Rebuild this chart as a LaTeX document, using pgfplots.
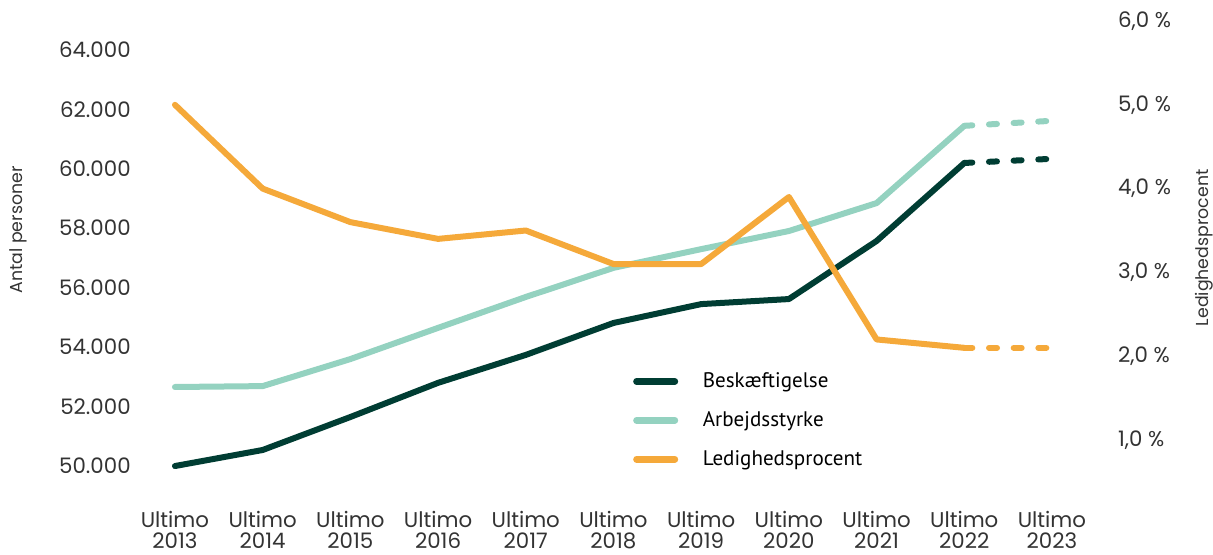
\documentclass[border=0pt]{standalone}
\usepackage{pgfplots}
\pgfplotsset{compat=1.18}
\usepackage{fontspec}
\setmainfont{Poppins}
\newfontfamily\legfont{PT Sans}

\definecolor{darkgreen}{HTML}{003D33}
\definecolor{teal}{HTML}{94D2C0}
\definecolor{orange}{HTML}{F5A93A}

\pgfplotsset{
  base/.style={
    scale only axis,
    width=710.4pt, height=352.5pt,
    xmin=2012.6, xmax=2023.4,
    axis line style={draw=none},
    tick style={draw=none},
    font=\fontsize{16}{15.5}\selectfont,
    clip=false,
  },
  ln/.style={line width=4.5pt, line join=round, line cap=round},
  dsh/.style={line width=4.5pt, line cap=round, dash pattern=on 6pt off 12.5pt},
}

\begin{document}
\begin{tikzpicture}
\begin{axis}[base,
    axis y line*=left,
    ymin=49529, ymax=65348,
    ytick={50000,52000,54000,56000,58000,60000,62000,64000},
    yticklabels={50.000,52.000,54.000,56.000,58.000,60.000,62.000,64.000},
    yticklabel style={inner sep=0pt, xshift=-6.7pt, text=black!80},
    xtick={2013,...,2023},
    xticklabels={Ultimo\\2013,Ultimo\\2014,Ultimo\\2015,Ultimo\\2016,Ultimo\\2017,Ultimo\\2018,Ultimo\\2019,Ultimo\\2020,Ultimo\\2021,Ultimo\\2022,Ultimo\\2023},
    xticklabel style={align=center, inner sep=0pt, yshift=-23.5pt, anchor=north, text=black!80},
    ylabel={Antal personer},
    ylabel style={at={(axis description cs:-0.1287,0.532)}, anchor=center, rotate=0, font=\fontsize{13}{15}\selectfont, text=black!80},
  ]
\addplot[ln, teal] coordinates {(2013,52660) (2014,52690) (2015,53600) (2016,54650) (2017,55690) (2018,56670) (2019,57300) (2020,57910) (2021,58850) (2022,61450)};
\addplot[dsh, teal] coordinates {(2022,61450) (2023,61620)};
\addplot[ln, darkgreen] coordinates {(2013,50000) (2014,50540) (2015,51650) (2016,52800) (2017,53740) (2018,54815) (2019,55450) (2020,55620) (2021,57575) (2022,60200)};
\addplot[dsh, darkgreen] coordinates {(2022,60200) (2023,60340)};
\end{axis}
\begin{axis}[base,
    axis y line*=right,
    axis x line=none,
    ymin=0.5227, ymax=6.131,
    ytick={1,2,3,4,5,6},
    yticklabels={{1,0 \%},{2,0 \%},{3,0 \%},{4,0 \%},{5,0 \%},{6,0 \%}},
    yticklabel style={inner sep=0pt, xshift=23pt, anchor=west, text=black!80},
    ylabel={Ledighedsprocent},
    ylabel style={at={(axis description cs:1.1234,0.494)}, anchor=center, rotate=0, font=\fontsize{13}{15}\selectfont, text=black!80},
    legend style={at={(axis description cs:0.5205,0.234)}, anchor=north west, draw=none, fill=none,
      font=\legfont\fontsize{15.8}{17}\selectfont, row sep=12.5pt, inner sep=0pt},
    legend cell align=left,
    legend image code/.code={\path[draw=none] (0pt,0pt) -- (47.75pt,0pt);\draw[#1, line width=5pt, line cap=round] (0pt,0pt) -- (28.75pt,0pt);},
  ]
\addlegendimage{darkgreen}
\addlegendentry{Beskæftigelse}
\addlegendimage{teal}
\addlegendentry{Arbejdsstyrke}
\addplot[ln, orange] coordinates {(2013,5.0) (2014,4.0) (2015,3.6) (2016,3.4) (2017,3.5) (2018,3.1) (2019,3.1) (2020,3.9) (2021,2.2) (2022,2.1)};
\addlegendentry{Ledighedsprocent}
\addplot[dsh, orange, forget plot] coordinates {(2022,2.1) (2023,2.1)};
\end{axis}
\pgfresetboundingbox
\path[use as bounding box] (-104.9pt,-55.5pt) rectangle (804.8pt,360pt);
\end{tikzpicture}
\end{document}
